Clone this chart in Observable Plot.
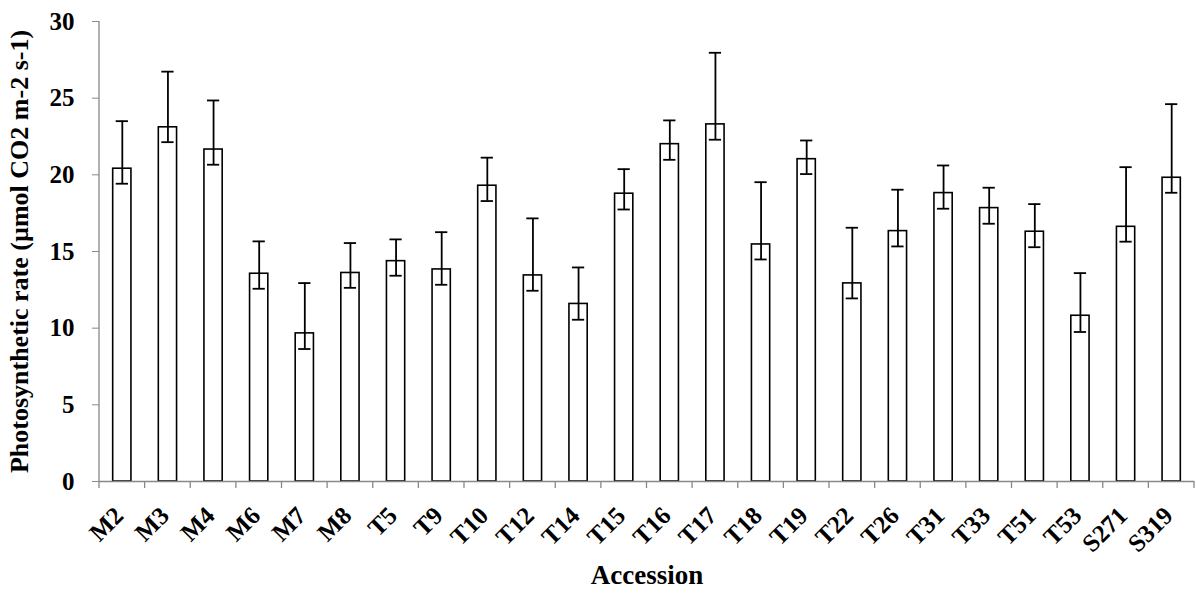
<!DOCTYPE html>
<html>
<head>
<meta charset="utf-8">
<script src="https://cdn.jsdelivr.net/npm/d3@7"></script>
<script src="https://cdn.jsdelivr.net/npm/@observablehq/plot@0.6"></script>
<style>
  html, body { margin: 0; padding: 0; background: #fff; }
  #chart svg { display: block; }
</style>
</head>
<body>
<div id="chart"></div>
<script>
const categories = ["M2","M3","M4","M6","M7","M8","T5","T9","T10","T12","T14","T15","T16","T17","T18","T19","T22","T26","T31","T33","T51","T53","S271","S319"];
const means = [20.4,23.1,21.65,13.55,9.66,13.6,14.37,13.83,19.29,13.44,11.58,18.77,22.0,23.29,15.46,21.02,12.92,16.33,18.81,17.83,16.29,10.81,16.61,19.81];
const upper = [23.5,26.73,24.85,15.66,12.94,15.55,15.79,16.26,21.12,17.16,13.96,20.37,23.55,27.96,19.52,22.24,16.55,19.03,20.61,19.16,18.09,13.59,20.5,24.61];
const lower = [19.42,22.13,20.66,12.57,8.64,12.63,13.42,12.83,18.29,12.44,10.55,17.74,20.98,22.29,14.48,20.05,11.94,15.33,17.79,16.81,15.28,9.75,15.64,18.83];
const yTicks = [0,5,10,15,20,25,30];
const yTitle = "Photosynthetic rate (µmol CO2 m-2 s-1)";
const xTitle = "Accession";

const data = categories.map((c, i) => ({cat: c, mean: means[i], hi: upper[i], lo: lower[i]}));
const axisColor = "#888888";
const font = "'Liberation Serif', 'Times New Roman', serif";

const chart = Plot.plot({
  width: 1196,
  height: 598,
  marginLeft: 99,
  marginRight: 2,
  marginTop: 21,
  marginBottom: 117,
  style: {fontFamily: font, fontWeight: "bold", background: "white", color: "black"},
  x: {domain: categories, paddingInner: 0.6, paddingOuter: 0.3, round: false, label: null},
  y: {domain: [0, 30], label: null},
  marks: [
    Plot.barY(data, {x: "cat", y: "mean", fill: "white", stroke: "black", strokeWidth: 1.6}),
    Plot.ruleX(data, {x: "cat", y1: "lo", y2: "hi", stroke: "black", strokeWidth: 1.8}),
    Plot.tickY(data, {x: "cat", y: "hi", stroke: "black", strokeWidth: 1.8, insetLeft: 3, insetRight: 3}),
    Plot.tickY(data, {x: "cat", y: "lo", stroke: "black", strokeWidth: 1.8, insetLeft: 3, insetRight: 3}),
    Plot.ruleY([0], {stroke: axisColor, strokeWidth: 1.3}),
    Plot.axisY({ticks: yTicks, tickSize: 7, tickPadding: 18, stroke: axisColor, fontSize: 25, fontWeight: "bold", label: null}),
    Plot.axisX({tickSize: 0, tickRotate: -45, tickPadding: 30, dx: -3, fontSize: 25, fontWeight: "bold", label: null}),
    Plot.text([yTitle], {frameAnchor: "left", textAnchor: "middle", rotate: -90, dx: -80, fontSize: 26, fontWeight: "bold", fill: "black"}),
    Plot.text([xTitle], {frameAnchor: "bottom", dy: 102, fontSize: 27, fontWeight: "bold", fill: "black"})
  ]
});

// axis line on the left and boundary tick marks on the x axis, from Plot's scales
const sx = chart.scale("x");
const sy = chart.scale("y");
const svg = d3.select(chart);
const xLeft = sx.range[0], xRight = sx.range[1];
const y0 = sy.apply(0), yTop = sy.apply(30);
const g = svg.append("g").attr("stroke", axisColor).attr("stroke-width", 1.3);
g.append("line").attr("x1", xLeft).attr("x2", xLeft).attr("y1", yTop).attr("y2", y0);
const gap = (sx.step - sx.bandwidth) / 2;
const bounds = categories.map(c => sx.apply(c) - gap).concat([xRight]);
bounds.forEach(b => {
  g.append("line").attr("x1", b).attr("x2", b).attr("y1", y0).attr("y2", y0 + 7);
});

document.getElementById("chart").appendChild(chart);
</script>
</body>
</html>
